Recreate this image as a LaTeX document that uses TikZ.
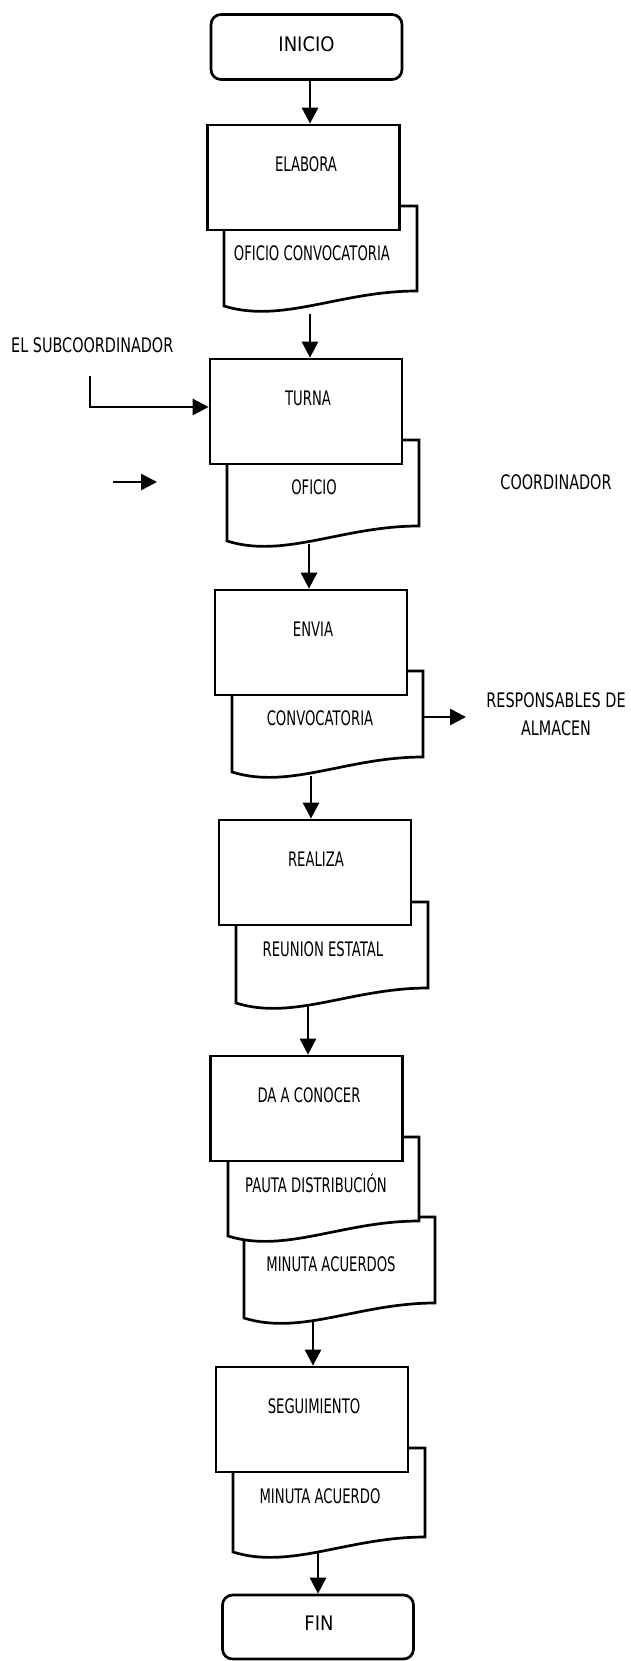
\documentclass[tikz,border=0pt]{standalone}
\usepackage{fontspec}
\newfontfamily\condf[FakeStretch=0.66]{DejaVu Sans}
\newfontfamily\condg[FakeStretch=0.72]{DejaVu Sans}
\newfontfamily\termf[FakeStretch=0.9]{DejaVu Sans}
\usetikzlibrary{arrows.meta}
\newcommand{\mydoc}[4]{\draw[docshape] (#1,#3) -- (#2,#3) -- (#2,{#4-15}) .. controls ({#1+0.6*(#2-#1)},{#4-15}) and ({#1+0.3*(#2-#1)},{#4+18}) .. (#1,#4) -- cycle;}
\tikzset{
 ln/.style={line width=2.7pt},
 procbox/.style={draw, ln, fill=white, minimum width=192pt, minimum height=105pt, inner sep=0pt},
 termbox/.style={draw, ln, fill=white, rounded corners=10pt, minimum width=191pt, minimum height=65pt, inner sep=0pt},
 docshape/.style={draw, ln, fill=white, line join=miter},
 arr/.style={ln, -{Triangle[length=16pt,width=16pt]}},
 lbl/.style={inner sep=0pt, text height=14.6pt, text depth=0pt, font=\condf\fontsize{20}{24}\selectfont},
 side/.style={inner sep=0pt, font=\condg\fontsize{20}{28}\selectfont},
 termtxt/.style={inner sep=0pt, text height=14.6pt, text depth=0pt, font=\termf\fontsize{20}{24}\selectfont},
}
\begin{document}
\begin{tikzpicture}[x=1pt,y=-1pt]
\path[use as bounding box, fill=white] (0,0) rectangle (631,1661);

% documents (behind the process boxes)
\mydoc{224}{417}{206}{306}
\mydoc{227}{419}{440}{541}
\mydoc{232}{423}{671}{772}
\mydoc{236}{428}{902}{1003}
\mydoc{244}{435}{1217}{1318}
\mydoc{228}{419}{1137}{1236}
\mydoc{233}{425}{1448}{1552}

% terminals and process boxes
\node[termbox] (ini) at (306.5,47) {};
\node[procbox] (elab) at (303.5,177.5) {};
\node[procbox] (tur) at (306,411.5) {};
\node[procbox] (env) at (311,642.5) {};
\node[procbox] (real) at (315,872.5) {};
\node[procbox] (daa) at (306.5,1108.5) {};
\node[procbox] (seg) at (312,1419.5) {};
\node[termbox, minimum height=64pt] (fin) at (318,1627) {};

% texts
\node[termtxt] (iniT) at (306.5,44) {INICIO};
\node[termtxt] (finT) at (319,1623) {FIN};
\node[lbl] (elabT) at (306,164) {ELABORA};
\node[lbl] (d1T) at (312,253) {OFICIO CONVOCATORIA};
\node[lbl] (turT) at (308,398) {TURNA};
\node[lbl] (d2T) at (314,487) {OFICIO};
\node[lbl] (envT) at (313,629) {ENVIA};
\node[lbl] (d3T) at (320,718) {CONVOCATORIA};
\node[lbl] (realT) at (316,859) {REALIZA};
\node[lbl] (d4T) at (323,949) {REUNION ESTATAL};
\node[lbl] (daaT) at (309,1095) {DA A CONOCER};
\node[lbl] (d5aT) at (316,1185) {PAUTA DISTRIBUCIÓN};
\node[lbl] (d5bT) at (331,1264) {MINUTA ACUERDOS};
\node[lbl] (segT) at (314,1406) {SEGUIMIENTO};
\node[lbl] (d6T) at (320,1496) {MINUTA ACUERDO};

\node[side, anchor=west, text height=14.6pt, text depth=0pt] (sub) at (11,345) {EL SUBCOORDINADOR};
\node[side, text height=14.6pt, text depth=0pt] (coord) at (556,482) {COORDINADOR};
\node[side, align=center] (resp) at (556,714) {RESPONSABLES DE\\ALMACEN};

% connectors
\coordinate (a1) at (310,80);
\draw[arr] (a1) -- (a1 |- elab.north);
\coordinate (a2) at (310,314);
\draw[arr] (a2) -- (a2 |- tur.north);
\coordinate (a3) at (309,544);
\draw[arr] (a3) -- (a3 |- env.north);
\coordinate (a4) at (311,776);
\draw[arr] (a4) -- (a4 |- real.north);
\coordinate (a5) at (308,1006);
\draw[arr] (a5) -- (a5 |- daa.north);
\coordinate (a6) at (313,1322);
\draw[arr] (a6) -- (a6 |- seg.north);
\coordinate (a7) at (318,1553);
\draw[arr] (a7) -- (a7 |- fin.north);

\coordinate (s1) at (90,376);
\draw[arr] (s1) |- ([yshift=4.5pt]tur.west);
\coordinate (c1) at (113,482);
\coordinate (c2) at (157,482);
\draw[arr] (c1) -- (c2);
\coordinate (o1) at (423,717);
\coordinate (o2) at (466,717);
\draw[arr] (o1) -- (o2);
\end{tikzpicture}
\end{document}
